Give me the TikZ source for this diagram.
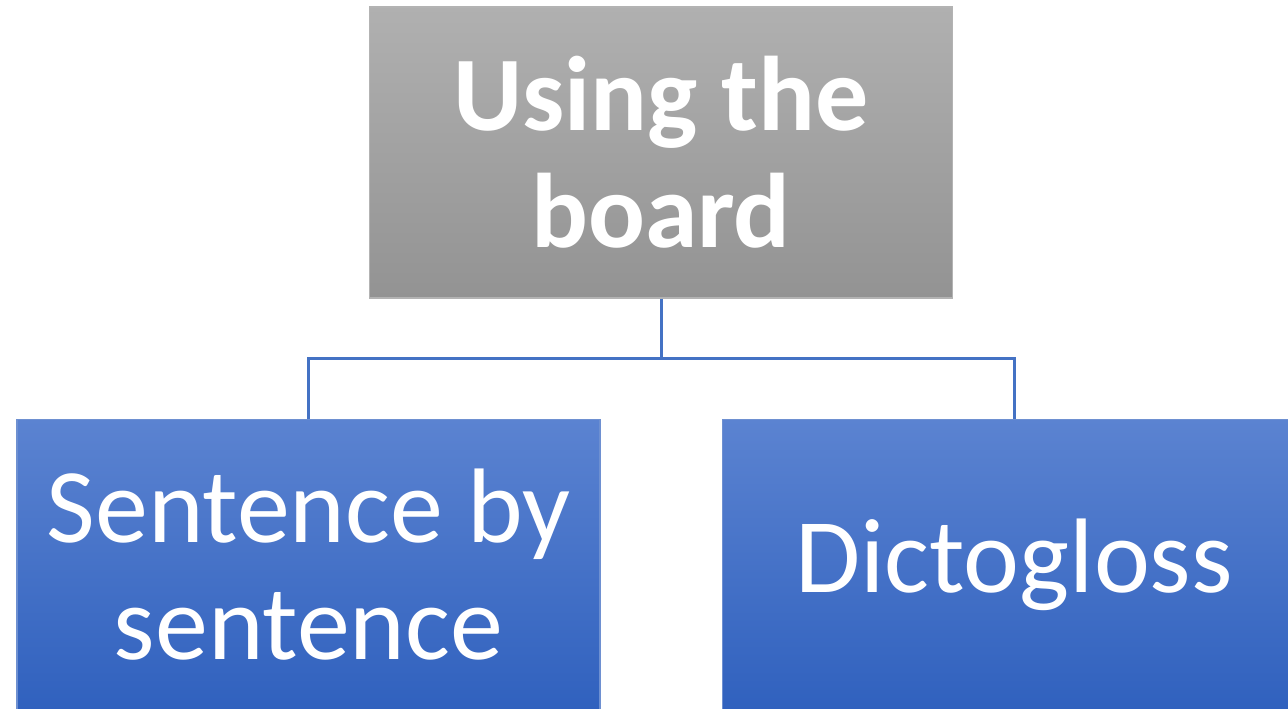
\documentclass[tikz,border=0pt]{standalone}
\usepackage{fontspec}
\setmainfont{Carlito}
\definecolor{linkblue}{HTML}{4472C4}
\definecolor{bluetop}{HTML}{5B83D1}
\definecolor{bluebot}{HTML}{3061BE}
\definecolor{graytop}{HTML}{B0B0B0}
\definecolor{graybot}{HTML}{939393}
\tikzset{
  box/.style={rectangle, inner sep=0pt, align=center, text=white,
    minimum width=583pt, minimum height=291pt,
    draw=#1bot!70!white, line width=1.5pt,
    top color=#1top, bottom color=#1bot,
    font=\fontsize{106}{117}\selectfont},
  link/.style={draw=linkblue, line width=3pt}
}
\begin{document}
\begin{tikzpicture}[x=1pt,y=-1pt]
\useasboundingbox (0,0) rectangle (1288,709);
\clip (0,0) rectangle (1288,709);

\node[box=gray, font=\fontsize{106}{117}\selectfont\bfseries] (board) at (661,152.5) {Using the\\board};
\node[box=blue] (sentence) at (308.5,565) {Sentence by\\sentence};
\node[box=blue] (dicto) at (1014,565) {Dictogloss};

\coordinate (bus) at (661,358);
\draw[link] (board.south) -- (bus) -| (sentence.north);
\draw[link] (bus) -| (dicto.north);

\end{tikzpicture}
\end{document}
